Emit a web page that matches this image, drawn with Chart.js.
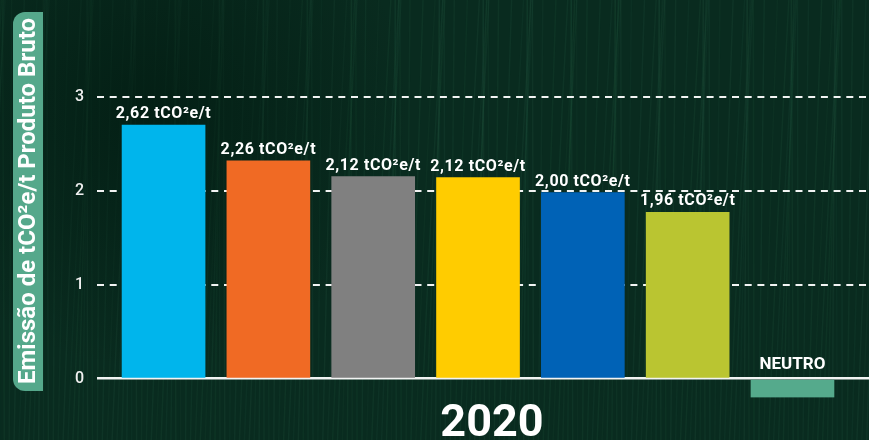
<!DOCTYPE html>
<html>
<head>
<meta charset="utf-8">
<script src="https://cdn.jsdelivr.net/npm/chart.js@4.4.1/dist/chart.umd.min.js"></script>
<style>
  html, body { margin: 0; padding: 0; background: #0b2e22; }
  #wrap { width: 869px; height: 440px; }
</style>
</head>
<body>
<div id="wrap"><canvas id="chart" width="869" height="440"></canvas></div>
<script>
  'use strict';

  // --- Data ---
  const categories = ['1', '2', '3', '4', '5', '6', '7'];
  const barValues = [2.70, 2.32, 2.15, 2.14, 1.98, 1.77, -0.20];
  const barLabels = ['2,62 tCO²e/t', '2,26 tCO²e/t', '2,12 tCO²e/t', '2,12 tCO²e/t', '2,00 tCO²e/t', '1,96 tCO²e/t', 'NEUTRO'];
  const barColors = ['#00b5ec', '#f06a24', '#808080', '#ffcc00', '#0062b6', '#bac531', '#55aa8c'];
  const yTicks = [0, 1, 2, 3];
  const yTitle = 'Emissão de tCO²e/t Produto Bruto';
  const xTitle = '2020';

  // --- Background with a faint streak texture ---
  const backgroundPlugin = {
    id: 'background',
    beforeDraw(chart) {
      const ctx = chart.ctx;
      const w = chart.width, h = chart.height;
      ctx.save();
      ctx.fillStyle = '#092b1f';
      ctx.fillRect(0, 0, w, h);
      ctx.lineWidth = 1.5;
      for (let i = 0; i < 190; i++) {
        const x0 = i * 4.9 - 30;
        const lean = 10 + 12 * Math.sin(i * 0.7);
        ctx.strokeStyle = 'rgba(38,92,68,' + (0.10 + 0.10 * Math.abs(Math.sin(i * 1.9))) + ')';
        ctx.beginPath();
        ctx.moveTo(x0 + lean, 0);
        ctx.quadraticCurveTo(x0 + lean * 0.4, h * 0.5, x0, h);
        ctx.stroke();
      }
      // darker band in the upper left
      const g = ctx.createRadialGradient(150, 110, 10, 150, 110, 260);
      g.addColorStop(0, 'rgba(2,28,18,0.75)');
      g.addColorStop(1, 'rgba(2,28,18,0)');
      ctx.fillStyle = g;
      ctx.fillRect(0, 0, w, h);
      ctx.restore();
    }
  };

  // --- Y title box and x title ---
  const titlesPlugin = {
    id: 'titles',
    afterDraw(chart) {
      const ctx = chart.ctx;
      ctx.save();
      ctx.fillStyle = '#55a88b';
      ctx.beginPath();
      ctx.roundRect(13, 12, 30, 379, [12, 0, 0, 12]);
      ctx.fill();
      ctx.translate(28, 201);
      ctx.rotate(-Math.PI / 2);
      ctx.fillStyle = '#ffffff';
      ctx.font = 'bold 24px Roboto';
      ctx.textAlign = 'center';
      ctx.textBaseline = 'middle';
      ctx.fillText(yTitle, 0, 1);
      ctx.restore();

      ctx.save();
      ctx.fillStyle = '#ffffff';
      ctx.font = 'bold 45px Roboto';
      ctx.textAlign = 'center';
      ctx.textBaseline = 'alphabetic';
      ctx.fillText(xTitle, 492, 436);
      ctx.restore();
    }
  };

  // --- Value labels above each bar ---
  const labelsPlugin = {
    id: 'barLabels',
    afterDatasetsDraw(chart) {
      const ctx = chart.ctx;
      const meta = chart.getDatasetMeta(0);
      ctx.save();
      ctx.fillStyle = '#ffffff';
      ctx.textAlign = 'center';
      ctx.textBaseline = 'alphabetic';
      meta.data.forEach((bar, i) => {
        const top = Math.min(bar.y, bar.base);
        const isNeutral = barValues[i] < 0;
        ctx.font = isNeutral ? 'bold 17px Roboto' : 'bold 16px Roboto';
        ctx.letterSpacing = isNeutral ? '0px' : '0.6px';
        ctx.fillText(barLabels[i], bar.x, top - (isNeutral ? 11 : 7));
      });
      ctx.restore();
    }
  };

  new Chart(document.getElementById('chart'), {
    type: 'bar',
    data: {
      labels: categories,
      datasets: [{
        data: barValues.map((v, i) => ({ x: i, y: v })),
        backgroundColor: barColors,
        borderWidth: 0,
        barThickness: 83
      }]
    },
    options: {
      responsive: false,
      animation: false,
      devicePixelRatio: 1,
      layout: { padding: { left: 50, right: 0, top: 4, bottom: 42.5 } },
      plugins: { legend: { display: false }, tooltip: { enabled: false } },
      scales: {
        x: {
          type: 'linear',
          offset: false,
          min: -0.635,
          max: 6.73,
          display: false
        },
        y: {
          min: -0.2,
          max: 3.79,
          afterBuildTicks: scale => { scale.ticks = yTicks.map(v => ({ value: v })); },
          afterFit: scale => { scale.width = 47; },
          grid: {
            color: 'rgba(255,255,255,0.95)',
            lineWidth: c => (c.tick && c.tick.value === 0 ? 2.5 : 2),
            drawTicks: false
          },
          border: {
            display: false,
            dash: c => (c.tick && c.tick.value === 0 ? [] : [7, 5.7])
          },
          ticks: {
            color: '#f0f0f0',
            padding: 13,
            font: { family: 'Roboto', size: 16, weight: '500' }
          }
        }
      }
    },
    plugins: [backgroundPlugin, labelsPlugin, titlesPlugin]
  });
</script>
</body>
</html>
